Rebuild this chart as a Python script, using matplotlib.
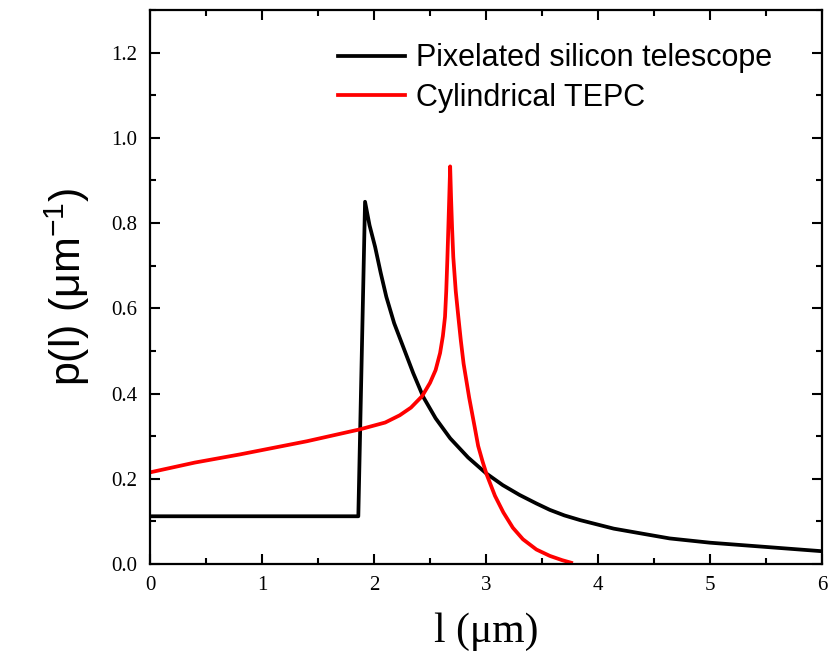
import matplotlib
matplotlib.use("Agg")
import matplotlib.pyplot as plt
from matplotlib.ticker import MultipleLocator

# Chord-length distributions p(l)
silicon_x = [0.0, 0.5, 1.0, 1.5, 1.86, 1.92, 1.96, 2.01, 2.06, 2.11, 2.18, 2.26, 2.35,
             2.44, 2.55, 2.68, 2.84, 3.0, 3.15, 3.3, 3.45, 3.57, 3.7, 3.84, 4.02,
             4.14, 4.4, 4.64, 5.0, 5.45, 6.0]
silicon_y = [0.112, 0.112, 0.112, 0.112, 0.112, 0.850, 0.795, 0.744, 0.683, 0.627, 0.565,
             0.510, 0.448, 0.392, 0.342, 0.295, 0.250, 0.213, 0.185, 0.162, 0.142, 0.127,
             0.114, 0.103, 0.091, 0.083, 0.071, 0.060, 0.050, 0.041, 0.030]

tepc_x = [0.0, 0.4, 0.8, 1.4, 1.875, 2.1, 2.23, 2.33, 2.43, 2.5, 2.55, 2.59, 2.615,
          2.634, 2.645, 2.655, 2.665, 2.673, 2.68, 2.688, 2.697, 2.708, 2.73, 2.753,
          2.775, 2.8, 2.85, 2.9, 2.93, 2.97, 3.006, 3.08, 3.155, 3.24, 3.33, 3.45,
          3.57, 3.68, 3.76]
tepc_y = [0.215, 0.238, 0.257, 0.288, 0.316, 0.332, 0.349, 0.367, 0.394, 0.425, 0.455,
          0.495, 0.535, 0.580, 0.640, 0.715, 0.800, 0.870, 0.933, 0.860, 0.790, 0.720,
          0.640, 0.580, 0.525, 0.470, 0.390, 0.320, 0.277, 0.240, 0.210, 0.160, 0.121,
          0.085, 0.058, 0.034, 0.019, 0.009, 0.003]

labels = ["Pixelated silicon telescope", "Cylindrical TEPC"]
colors = ["#000000", "#ff0000"]

serif = ["Liberation Serif", "DejaVu Serif"]
sans = ["Liberation Sans", "DejaVu Sans"]

fig = plt.figure(figsize=(8.38, 6.60), dpi=100)
ax = fig.add_axes([150 / 838, 96 / 660, 672 / 838, 554 / 660])

ax.plot(silicon_x, silicon_y, color=colors[0], lw=2.7, label=labels[0],
        solid_joinstyle="round")
ax.plot(tepc_x, tepc_y, color=colors[1], lw=2.7, label=labels[1],
        solid_joinstyle="round")

ax.set_xlim(0, 6)
ax.set_ylim(0, 1.3)
ax.xaxis.set_major_locator(MultipleLocator(1))
ax.xaxis.set_minor_locator(MultipleLocator(0.5))
ax.yaxis.set_major_locator(MultipleLocator(0.2))
ax.yaxis.set_minor_locator(MultipleLocator(0.1))
ax.yaxis.set_major_formatter(plt.FuncFormatter(lambda v, p: f"{v:.1f}"))

for s in ax.spines.values():
    s.set_linewidth(1.6)
ax.tick_params(which="both", direction="in", top=True, right=True, width=1.5)
ax.tick_params(which="major", length=7)
ax.tick_params(which="minor", length=4)
ax.tick_params(axis="x", which="major", pad=9)
ax.tick_params(axis="y", which="major", pad=9)
for lab in ax.get_xticklabels() + ax.get_yticklabels():
    lab.set_fontfamily(serif)
    lab.set_fontsize(15)

ax.set_xlabel("l (\u03bcm)", family=serif, fontsize=30, labelpad=12)
ax.set_ylabel("p(l) (\u03bcm$^{\\mathregular{-1}}$)", family=sans, fontsize=31, labelpad=14)

leg = ax.legend(loc="upper left", bbox_to_anchor=((338 - 150) / 672, 0.94),
                frameon=False, borderpad=0, borderaxespad=0, handlelength=2.2,
                handletextpad=0.35, labelspacing=0.32,
                prop={"family": sans, "size": 22})

fig.savefig("out.png", dpi=100)
